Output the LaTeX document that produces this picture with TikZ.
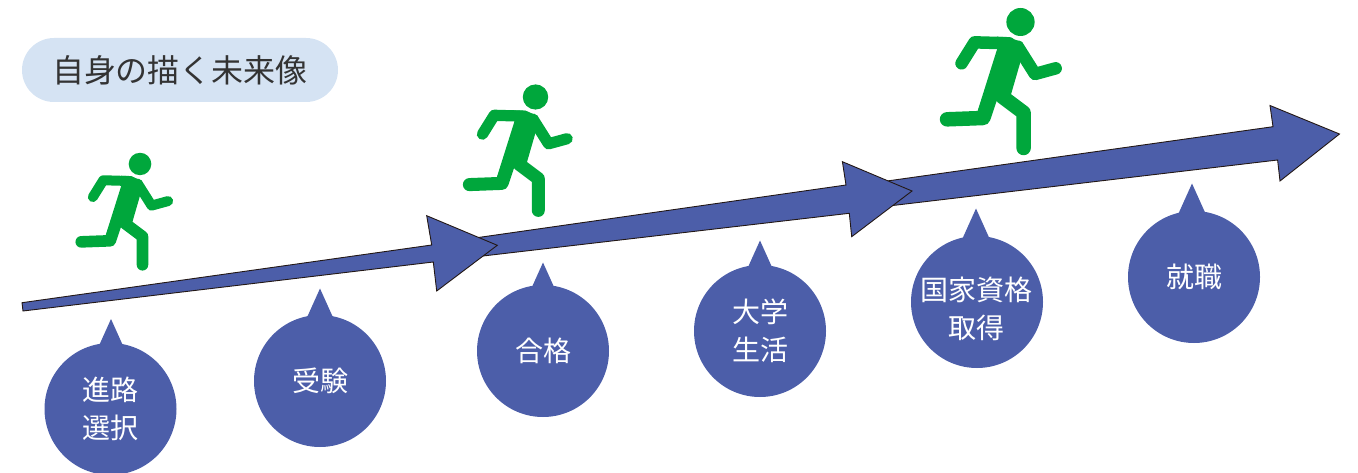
\documentclass[tikz,border=0pt]{standalone}
\usepackage{fontspec}
\setmainfont{Noto Sans CJK JP}
\definecolor{arrowblue}{HTML}{4C5EA9}
\definecolor{runnergreen}{HTML}{00A73C}
\definecolor{pillblue}{HTML}{D5E3F3}
\definecolor{inkdark}{HTML}{231815}
\definecolor{titleink}{HTML}{333333}
\tikzset{
  flow/.style={fill=arrowblue,draw=inkdark,line width=0.9pt,line join=miter},
  bubble/.style={circle,fill=arrowblue,minimum size=132pt,inner sep=0pt,text=white,align=center,
    font=\fontsize{28}{38.5}\selectfont},
  spike/.style={fill=arrowblue},
  pill/.style={rounded corners=32pt,fill=pillblue,minimum width=316pt,minimum height=64pt,inner sep=0pt,
    text=titleink,font=\fontsize{32}{36}\selectfont},
}
\newcommand{\runnerfig}[3]{%
  \begin{scope}[shift={(#1,#2)},x=#3*0.3448pt,y=-#3*0.3333pt,shift={(-583,-66)}]
    \fill[runnergreen] (583,66) ellipse [x radius=41,y radius=42];
    \fill[runnergreen] (515,110) -- (550,112) -- (590,128) -- (590,160) -- (555,285) -- (510,305) -- (490,360) -- (458,335) -- (515,148) -- cycle;
    \draw[runnergreen,line width=#3*12.5pt,line cap=round,line join=round] (412,190) -- (450,127) -- (550,130);
    \draw[runnergreen,line width=#3*12.5pt,line cap=round,line join=round] (575,140) -- (625,222) -- (685,205);
    \draw[runnergreen,line width=#3*14.5pt,line cap=round,line join=round] (370,358) -- (475,354) -- (505,262);
    \draw[runnergreen,line width=#3*14.5pt,line cap=round,line join=round] (530,290) -- (592,338) -- (592,444);
  \end{scope}}
\newcommand{\spikeat}[2]{\fill[spike] (#1,#2) -- (#1+13.5,#2+30) -- (#1-13.5,#2+30) -- cycle;}
\begin{document}
\begin{tikzpicture}[x=1pt,y=-1pt]
\useasboundingbox (0,0) rectangle (1358,473);
% arrows, last one lowest
\draw[flow] (880,182) -- (1273,126.7) -- (1270,105.5) -- (1339.5,134) -- (1280,181) -- (1277.6,160) -- (880,207) -- cycle;
\draw[flow] (470,238.7) -- (846,185) -- (842.4,161.7) -- (912,191) -- (851.7,236.7) -- (849.3,213.3) -- (470,257.5) -- cycle;
\draw[flow] (22,302.7) -- (431.7,245) -- (426.7,215.7) -- (497.3,245.3) -- (436.7,291) -- (433.3,262) -- (23,311) -- cycle;
% runners
\runnerfig{140}{164}{0.80}
\runnerfig{535.5}{97}{0.90}
\runnerfig{1020.5}{22}{1}
% title
\node[pill] (title) at (180,70) {自身の描く未来像};
% bubbles
\spikeat{111}{319}
\node[bubble] (b1) at (110.5,409) {進路\\選択};
\spikeat{320}{288.5}
\node[bubble] (b2) at (320,381) {受験};
\spikeat{543}{262.5}
\node[bubble] (b3) at (543,351) {合格};
\spikeat{760}{240.5}
\node[bubble] (b4) at (760,331) {大学\\生活};
\spikeat{976}{208.5}
\node[bubble] (b5) at (977,302) {};
\node[text=white,align=center,font=\fontsize{28}{38.5}\selectfont] (b5text) at (976,309) {国家資格\\取得};
\spikeat{1192}{183.5}
\node[bubble] (b6) at (1194,277) {就職};
\end{tikzpicture}
\end{document}
